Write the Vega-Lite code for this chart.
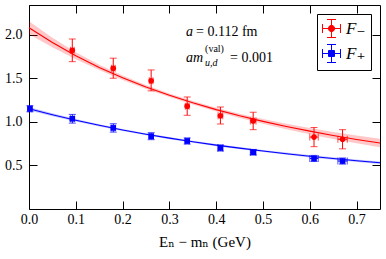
{
  "$schema": "https://vega.github.io/schema/vega-lite/v6.json",
  "width": 351,
  "height": 204,
  "autosize": "none",
  "padding": {"left": 29, "top": 5, "right": 6, "bottom": 50},
  "background": "white",
  "config": {
    "view": {"stroke": "black", "strokeWidth": 1},
    "font": "'Liberation Serif', 'DejaVu Serif', serif",
    "text": {"font": "'Liberation Serif', 'DejaVu Serif', serif"},
    "axis": {"grid": false, "domain": false, "labelColor": "black", "titleColor": "black", "labelFont": "'Liberation Serif', 'DejaVu Serif', serif", "titleFont": "'Liberation Serif', 'DejaVu Serif', serif", "labelFontSize": 14, "titleFontSize": 15, "titleFontWeight": "normal", "zindex": 1},
    "legend": {"labelFont": "'Liberation Serif', 'DejaVu Serif', serif"}
  },
  "datasets": {
    "fit": [
      {"s": "F₋", "x": 0.00, "y": 2.080, "lo": 2.005, "hi": 2.155},
      {"s": "F₋", "x": 0.05, "y": 1.909, "lo": 1.854, "hi": 1.964},
      {"s": "F₋", "x": 0.10, "y": 1.758, "lo": 1.718, "hi": 1.798},
      {"s": "F₋", "x": 0.15, "y": 1.624, "lo": 1.594, "hi": 1.654},
      {"s": "F₋", "x": 0.20, "y": 1.505, "lo": 1.480, "hi": 1.530},
      {"s": "F₋", "x": 0.25, "y": 1.399, "lo": 1.377, "hi": 1.421},
      {"s": "F₋", "x": 0.30, "y": 1.304, "lo": 1.284, "hi": 1.324},
      {"s": "F₋", "x": 0.35, "y": 1.218, "lo": 1.198, "hi": 1.238},
      {"s": "F₋", "x": 0.40, "y": 1.140, "lo": 1.118, "hi": 1.162},
      {"s": "F₋", "x": 0.45, "y": 1.069, "lo": 1.044, "hi": 1.094},
      {"s": "F₋", "x": 0.50, "y": 1.005, "lo": 0.977, "hi": 1.033},
      {"s": "F₋", "x": 0.55, "y": 0.946, "lo": 0.914, "hi": 0.978},
      {"s": "F₋", "x": 0.60, "y": 0.893, "lo": 0.857, "hi": 0.929},
      {"s": "F₋", "x": 0.65, "y": 0.844, "lo": 0.804, "hi": 0.884},
      {"s": "F₋", "x": 0.70, "y": 0.798, "lo": 0.754, "hi": 0.842},
      {"s": "F₋", "x": 0.75, "y": 0.757, "lo": 0.709, "hi": 0.805},
      {"s": "F₊", "x": 0.00, "y": 1.150, "lo": 1.130, "hi": 1.170},
      {"s": "F₊", "x": 0.05, "y": 1.081, "lo": 1.065, "hi": 1.097},
      {"s": "F₊", "x": 0.10, "y": 1.018, "lo": 1.004, "hi": 1.032},
      {"s": "F₊", "x": 0.15, "y": 0.960, "lo": 0.947, "hi": 0.973},
      {"s": "F₊", "x": 0.20, "y": 0.907, "lo": 0.895, "hi": 0.919},
      {"s": "F₊", "x": 0.25, "y": 0.858, "lo": 0.846, "hi": 0.870},
      {"s": "F₊", "x": 0.30, "y": 0.813, "lo": 0.801, "hi": 0.825},
      {"s": "F₊", "x": 0.35, "y": 0.772, "lo": 0.760, "hi": 0.784},
      {"s": "F₊", "x": 0.40, "y": 0.733, "lo": 0.721, "hi": 0.745},
      {"s": "F₊", "x": 0.45, "y": 0.698, "lo": 0.686, "hi": 0.710},
      {"s": "F₊", "x": 0.50, "y": 0.665, "lo": 0.653, "hi": 0.677},
      {"s": "F₊", "x": 0.55, "y": 0.634, "lo": 0.621, "hi": 0.647},
      {"s": "F₊", "x": 0.60, "y": 0.605, "lo": 0.592, "hi": 0.618},
      {"s": "F₊", "x": 0.65, "y": 0.579, "lo": 0.565, "hi": 0.593},
      {"s": "F₊", "x": 0.70, "y": 0.554, "lo": 0.540, "hi": 0.568},
      {"s": "F₊", "x": 0.75, "y": 0.530, "lo": 0.515, "hi": 0.545}
    ],
    "pts": [
      {"s": "F₋", "x": 0.0925, "y": 1.82, "ylo": 1.69, "yhi": 1.95, "xlo": 0.0885, "xhi": 0.0965},
      {"s": "F₋", "x": 0.180, "y": 1.615, "ylo": 1.50, "yhi": 1.73, "xlo": 0.176, "xhi": 0.184},
      {"s": "F₋", "x": 0.261, "y": 1.47, "ylo": 1.355, "yhi": 1.595, "xlo": 0.257, "xhi": 0.265},
      {"s": "F₋", "x": 0.338, "y": 1.18, "ylo": 1.075, "yhi": 1.285, "xlo": 0.334, "xhi": 0.342},
      {"s": "F₋", "x": 0.409, "y": 1.07, "ylo": 0.975, "yhi": 1.17, "xlo": 0.404, "xhi": 0.414},
      {"s": "F₋", "x": 0.479, "y": 1.01, "ylo": 0.91, "yhi": 1.11, "xlo": 0.473, "xhi": 0.485},
      {"s": "F₋", "x": 0.609, "y": 0.825, "ylo": 0.715, "yhi": 0.935, "xlo": 0.600, "xhi": 0.618},
      {"s": "F₋", "x": 0.670, "y": 0.80, "ylo": 0.69, "yhi": 0.91, "xlo": 0.660, "xhi": 0.680},
      {"s": "F₊", "x": 0.002, "y": 1.15, "ylo": 1.115, "yhi": 1.185, "xlo": -0.002, "xhi": 0.006},
      {"s": "F₊", "x": 0.0925, "y": 1.035, "ylo": 0.985, "yhi": 1.085, "xlo": 0.0885, "xhi": 0.0965},
      {"s": "F₊", "x": 0.180, "y": 0.93, "ylo": 0.882, "yhi": 0.978, "xlo": 0.176, "xhi": 0.184},
      {"s": "F₊", "x": 0.261, "y": 0.835, "ylo": 0.795, "yhi": 0.875, "xlo": 0.257, "xhi": 0.265},
      {"s": "F₊", "x": 0.338, "y": 0.78, "ylo": 0.745, "yhi": 0.815, "xlo": 0.334, "xhi": 0.342},
      {"s": "F₊", "x": 0.409, "y": 0.70, "ylo": 0.665, "yhi": 0.735, "xlo": 0.404, "xhi": 0.414},
      {"s": "F₊", "x": 0.479, "y": 0.65, "ylo": 0.62, "yhi": 0.68, "xlo": 0.473, "xhi": 0.485},
      {"s": "F₊", "x": 0.609, "y": 0.58, "ylo": 0.545, "yhi": 0.615, "xlo": 0.600, "xhi": 0.618},
      {"s": "F₊", "x": 0.670, "y": 0.55, "ylo": 0.515, "yhi": 0.585, "xlo": 0.660, "xhi": 0.680}
    ]
  },
  "resolve": {"scale": {"x": "independent", "y": "independent"}},
  "layer": [
    {
      "resolve": {"legend": {"color": "independent", "shape": "independent", "fill": "independent", "stroke": "independent"}, "scale": {"shape": "independent"}},
      "layer": [
        {
          "data": {"name": "fit"},
          "mark": {"type": "area", "opacity": 0.22},
          "encoding": {
            "x": {"field": "x", "type": "quantitative", "scale": {"domain": [0, 0.75], "nice": false, "zero": false},
                  "axis": {"orient": "bottom", "values": [0, 0.1, 0.2, 0.3, 0.4, 0.5, 0.6, 0.7], "format": ".1f", "ticks": true, "tickSize": 8, "tickColor": "#000000", "tickWidth": 1, "tickOpacity": 1, "offset": -8, "labelPadding": 3, "title": "Eₙ − mₙ  (GeV)", "titlePadding": 8, "labelFlush": false}},
            "y": {"field": "lo", "type": "quantitative", "scale": {"domain": [0, 2.34], "nice": false, "zero": false},
                  "axis": {"orient": "left", "values": [0.5, 1.0, 1.5, 2.0], "format": ".1f", "ticks": true, "tickSize": 8, "tickColor": "#000000", "tickWidth": 1, "tickOpacity": 1, "offset": -8, "labelPadding": 7, "title": null}},
            "y2": {"field": "hi"},
            "color": {"field": "s", "type": "nominal", "scale": {"domain": ["F₋", "F₊"], "range": ["#ff0000", "#0000ff"]}, "legend": null}
          }
        },
        {
          "data": {"name": "fit"},
          "mark": {"type": "line", "strokeWidth": 1.1},
          "encoding": {
            "x": {"field": "x", "type": "quantitative"},
            "y": {"field": "y", "type": "quantitative"},
            "color": {"field": "s", "type": "nominal", "legend": null}
          }
        },
        {
          "data": {"name": "pts"},
          "mark": {"type": "errorbar", "ticks": {"size": 7}, "thickness": 1},
          "encoding": {
            "x": {"field": "x", "type": "quantitative", "title": "Eₙ − mₙ  (GeV)"},
            "y": {"field": "ylo", "type": "quantitative", "title": null},
            "y2": {"field": "yhi"},
            "color": {"field": "s", "type": "nominal", "legend": null}
          }
        },
        {
          "data": {"name": "pts"},
          "mark": {"type": "errorbar", "ticks": {"size": 7}, "thickness": 1},
          "encoding": {
            "y": {"field": "y", "type": "quantitative", "title": null},
            "x": {"field": "xlo", "type": "quantitative", "title": "Eₙ − mₙ  (GeV)"},
            "x2": {"field": "xhi"},
            "color": {"field": "s", "type": "nominal", "legend": null}
          }
        },
        {
          "data": {"name": "pts"},
          "mark": {"type": "point", "filled": true, "opacity": 1, "size": 32},
          "encoding": {
            "x": {"field": "x", "type": "quantitative"},
            "y": {"field": "y", "type": "quantitative"},
            "color": {"field": "s", "type": "nominal", "legend": null},
            "shape": {"field": "s", "type": "nominal", "scale": {"domain": ["F₋", "F₊"], "range": ["circle", "square"]}, "legend": null}
          }
        },
        {
          "data": {"name": "pts"},
          "transform": [{"filter": "datum.x > 5"}],
          "mark": {"type": "point", "strokeWidth": 1, "size": 324},
          "encoding": {
            "x": {"field": "x", "type": "quantitative"},
            "y": {"field": "y", "type": "quantitative"},
            "stroke": {"field": "s", "type": "nominal", "scale": {"domain": ["F₋", "F₊"], "range": ["#ff0000", "#0000ff"]},
                      "legend": {"orient": "top-right", "offset": 9, "title": null, "strokeColor": "black", "fillColor": "white", "padding": 5, "cornerRadius": 0, "labelFontSize": 17, "labelFontStyle": "italic", "labelColor": "black", "rowPadding": 2, "symbolSize": 324, "symbolStrokeWidth": 1, "symbolOpacity": 1, "labelOffset": 5}},
            "fill": {"field": "s", "type": "nominal", "scale": {"domain": ["F₋", "F₊"], "range": ["#ff0000", "#0000ff"]},
                     "legend": {"orient": "top-right", "offset": 9, "title": null, "strokeColor": "black", "fillColor": "white", "padding": 5, "cornerRadius": 0, "labelFontSize": 17, "labelFontStyle": "italic", "labelColor": "black", "rowPadding": 2, "symbolSize": 324, "symbolStrokeWidth": 1, "symbolOpacity": 1, "labelOffset": 5}},
            "shape": {"field": "s", "type": "nominal", "scale": {"domain": ["F₋", "F₊"], "range": ["M-1,-0.5V0.5M-1,0H1M1,-0.5V0.5M-0.5,-1H0.5M0,-1V1M-0.5,1H0.5M0.35,0A0.35,0.35,0,1,1,-0.35,0A0.35,0.35,0,1,1,0.35,0Z", "M-1,-0.5V0.5M-1,0H1M1,-0.5V0.5M-0.5,-1H0.5M0,-1V1M-0.5,1H0.5M-0.33,-0.33H0.33V0.33H-0.33Z"]},
                      "legend": {"orient": "top-right", "offset": 9, "title": null, "strokeColor": "black", "fillColor": "white", "padding": 5, "cornerRadius": 0, "labelFontSize": 17, "labelFontStyle": "italic", "labelColor": "black", "rowPadding": 2, "symbolSize": 324, "symbolStrokeWidth": 1, "symbolOpacity": 1, "labelOffset": 5}}
          }
        },
        {
          "data": {"values": [{"x": 0.3356, "y": 1.98, "t": "a"}]},
          "mark": {"type": "text", "align": "left", "baseline": "alphabetic", "fontSize": 14, "fontStyle": "italic"},
          "encoding": {"x": {"field": "x", "type": "quantitative"}, "y": {"field": "y", "type": "quantitative"}, "text": {"field": "t"}}
        },
        {
          "data": {"values": [{"x": 0.3356, "y": 1.98, "t": "= 0.112 fm"}]},
          "mark": {"type": "text", "align": "left", "baseline": "alphabetic", "fontSize": 14, "dx": 10},
          "encoding": {"x": {"field": "x", "type": "quantitative"}, "y": {"field": "y", "type": "quantitative"}, "text": {"field": "t"}}
        },
        {
          "data": {"values": [{"x": 0.3356, "y": 1.69, "t": "am"}]},
          "mark": {"type": "text", "align": "left", "baseline": "alphabetic", "fontSize": 14, "fontStyle": "italic"},
          "encoding": {"x": {"field": "x", "type": "quantitative"}, "y": {"field": "y", "type": "quantitative"}, "text": {"field": "t"}}
        },
        {
          "data": {"values": [{"x": 0.3356, "y": 1.69, "t": "(val)"}]},
          "mark": {"type": "text", "align": "left", "baseline": "alphabetic", "fontSize": 10, "dx": 19, "dy": -10},
          "encoding": {"x": {"field": "x", "type": "quantitative"}, "y": {"field": "y", "type": "quantitative"}, "text": {"field": "t"}}
        },
        {
          "data": {"values": [{"x": 0.3356, "y": 1.69, "t": "u,d"}]},
          "mark": {"type": "text", "align": "left", "baseline": "alphabetic", "fontSize": 10, "fontStyle": "italic", "dx": 19, "dy": 4},
          "encoding": {"x": {"field": "x", "type": "quantitative"}, "y": {"field": "y", "type": "quantitative"}, "text": {"field": "t"}}
        },
        {
          "data": {"values": [{"x": 0.3356, "y": 1.69, "t": "= 0.001"}]},
          "mark": {"type": "text", "align": "left", "baseline": "alphabetic", "fontSize": 14, "dx": 44},
          "encoding": {"x": {"field": "x", "type": "quantitative"}, "y": {"field": "y", "type": "quantitative"}, "text": {"field": "t"}}
        }
      ]
    },
    {
      "data": {"name": "fit"},
      "mark": {"type": "line", "strokeOpacity": 0},
      "encoding": {
        "x": {"field": "x", "type": "quantitative", "scale": {"domain": [0, 0.75], "nice": false, "zero": false},
              "axis": {"orient": "top", "values": [0, 0.1, 0.2, 0.3, 0.4, 0.5, 0.6, 0.7], "labels": false, "title": null, "ticks": true, "tickSize": 8, "tickColor": "#000000", "tickWidth": 1, "tickOpacity": 1, "offset": -8}},
        "y": {"field": "y", "type": "quantitative", "scale": {"domain": [0, 2.34], "nice": false, "zero": false},
              "axis": {"orient": "right", "values": [0.5, 1.0, 1.5, 2.0], "labels": false, "title": null, "ticks": true, "tickSize": 8, "tickColor": "#000000", "tickWidth": 1, "tickOpacity": 1, "offset": -8}}
      }
    }
  ]
}
